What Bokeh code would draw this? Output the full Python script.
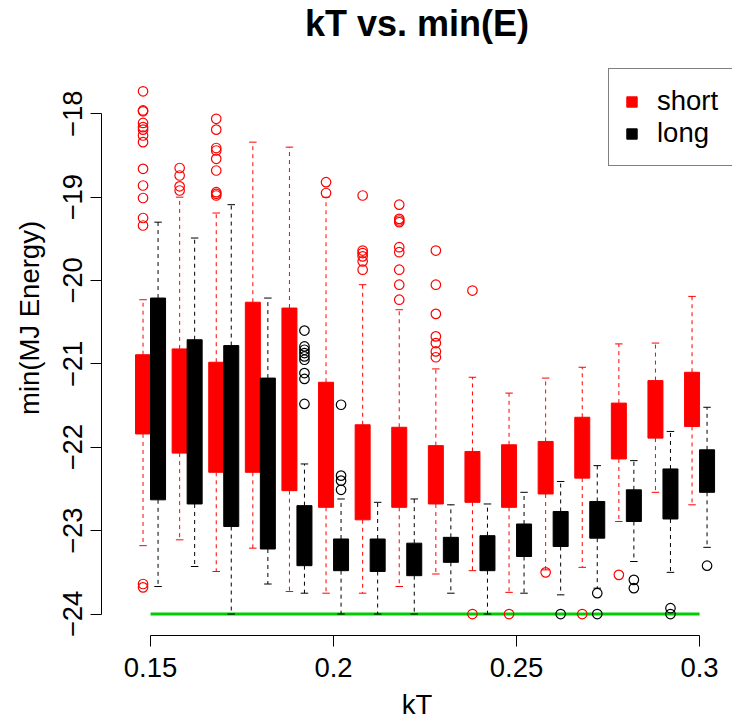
from bokeh.plotting import figure
from bokeh.models import Range1d, FixedTicker, Legend, LegendItem, ColumnDataSource, Label
from bokeh.embed import file_html
from bokeh.resources import INLINE

# ---------------- data ----------------
kT = [0.15, 0.16, 0.17, 0.18, 0.19, 0.20, 0.21, 0.22,
      0.23, 0.24, 0.25, 0.26, 0.27, 0.28, 0.29, 0.30]

# "short" series (red)
short_q3 = [-20.89, -20.82, -20.98, -20.26, -20.33, -21.22, -21.73, -21.76,
            -21.98, -22.05, -21.97, -21.93, -21.64, -21.47, -21.20, -21.10]
short_q1 = [-21.84, -22.07, -22.30, -22.30, -22.52, -22.72, -22.87, -22.72,
            -22.68, -22.66, -22.72, -22.56, -22.37, -22.14, -21.89, -21.75]
short_hi = [-20.23, -19.00, -19.19, -18.34, -18.40, -19.00, -20.05, -20.35,
            -21.06, -21.16, -21.35, -21.17, -21.04, -20.76, -20.75, -20.19]
short_lo = [-23.18, -23.11, -23.49, -23.21, -23.73, -23.75, -23.75, -23.67,
            -23.52, -23.48, -23.74, -23.47, -23.44, -22.89, -22.54, -22.69]
short_out = [
    [-17.73, -17.96, -17.97, -18.11, -18.16, -18.19, -18.26, -18.34, -18.66,
     -18.86, -19.01, -19.25, -19.34, -23.64, -23.68],
    [-18.65, -18.74, -18.87, -18.92],
    [-18.06, -18.19, -18.41, -18.44, -18.54, -18.68, -18.94, -18.96, -18.98],
    [],
    [],
    [-18.82, -18.95],
    [-18.98, -19.64, -19.67, -19.71, -19.77, -19.87],
    [-19.09, -19.26, -19.28, -19.30, -19.60, -19.66, -19.87, -20.05, -20.23],
    [-19.64, -20.05, -20.40, -20.67, -20.75, -20.85, -20.92],
    [-20.12, -24.00],
    [-24.00],
    [-23.50],
    [-24.00],
    [-23.53],
    [],
    [],
]

# "long" series (black)
long_q3 = [-20.21, -20.71, -20.78, -21.17, -22.70, -23.10, -23.10, -23.15,
           -23.08, -23.06, -22.92, -22.77, -22.65, -22.51, -22.26, -22.03]
long_q1 = [-22.63, -22.68, -22.95, -23.22, -23.42, -23.48, -23.49, -23.54,
           -23.38, -23.48, -23.31, -23.19, -23.09, -22.89, -22.86, -22.54]
long_hi = [-19.30, -19.49, -19.09, -20.21, -22.20, -22.62, -22.66, -22.62,
           -22.69, -22.68, -22.54, -22.41, -22.22, -22.16, -21.81, -21.52]
long_lo = [-23.67, -23.43, -24.00, -23.64, -23.75, -24.00, -24.00, -24.00,
           -23.75, -24.00, -23.75, -23.77, -23.69, -23.37, -23.50, -23.20]
long_out = [
    [], [], [], [],
    [-20.60, -20.79, -20.83, -20.87, -20.91, -20.95, -21.11, -21.18, -21.48],
    [-21.49, -22.34, -22.40, -22.51],
    [], [], [], [], [],
    [-24.00],
    [-23.75, -24.00],
    [-23.59, -23.69],
    [-23.93, -24.00],
    [-23.42],
]

floor_energy = -24.0
series_names = ["short", "long"]
y_ticks = [-24, -23, -22, -21, -20, -19, -18]
x_ticks = [0.15, 0.20, 0.25, 0.30]
x_tick_labels = ["0.15", "0.2", "0.25", "0.3"]
title_text = "kT vs. min(E)"

# ---------------- figure ----------------
FONT = "Liberation Sans"
# the frame reaches the top of the canvas so the title label can sit inside it
p = figure(width=732, height=722, output_backend="svg", toolbar_location=None,
           x_range=Range1d(0.1366, 0.309), y_range=Range1d(-24.2575, -16.641),
           min_border_left=101, min_border_right=0, min_border_top=0,
           min_border_bottom=86)
p.outline_line_color = None
p.xgrid.visible = False
p.ygrid.visible = False
p.background_fill_color = "white"

# title (frame: 631 px wide, 636 px tall)
p.add_layout(Label(x=315.5, y=612, x_units="screen", y_units="screen",
                   text=title_text, text_align="center",
                   text_baseline="alphabetic", text_font=FONT,
                   text_font_size="36px", text_font_style="bold",
                   text_color="black"))

# floor reference line
p.line(x=[min(kT), max(kT)], y=[floor_energy, floor_energy],
       line_color="#00CD00", line_width=3)

off = 0.00205
box_w = 0.0041
cap_w = box_w / 2


def draw_series(q1, q3, lo, hi, outs, color, shift):
    xs = [k + shift for k in kT]
    src = ColumnDataSource(dict(x=xs, q1=q1, q3=q3, lo=lo, hi=hi,
                                l=[x - box_w / 2 for x in xs],
                                r=[x + box_w / 2 for x in xs],
                                cl=[x - cap_w / 2 for x in xs],
                                cr=[x + cap_w / 2 for x in xs]))
    # whiskers (dashed)
    p.segment(x0="x", x1="x", y0="q3", y1="hi", source=src,
              line_color=color, line_width=1, line_dash="4 4")
    p.segment(x0="x", x1="x", y0="q1", y1="lo", source=src,
              line_color=color, line_width=1, line_dash="4 4")
    # staples
    p.segment(x0="cl", x1="cr", y0="hi", y1="hi", source=src,
              line_color=color, line_width=1)
    p.segment(x0="cl", x1="cr", y0="lo", y1="lo", source=src,
              line_color=color, line_width=1)
    # boxes
    r = p.quad(left="l", right="r", bottom="q1", top="q3", source=src,
               fill_color=color, line_color=color, line_width=1)
    # outliers
    ox, oy = [], []
    for x, vals in zip(xs, outs):
        for v in vals:
            ox.append(x)
            oy.append(v)
    p.scatter(x=ox, y=oy, marker="circle", size=9.5, fill_color=None,
              line_color=color, line_width=1.2)
    return r


r_short = draw_series(short_q1, short_q3, short_lo, short_hi, short_out, "#FF0000", -off)
r_long = draw_series(long_q1, long_q3, long_lo, long_hi, long_out, "#000000", off)

# ---------------- axes ----------------
xa = p.xaxis[0]
xa.ticker = FixedTicker(ticks=x_ticks)
xa.major_label_overrides = {t: s for t, s in zip(x_ticks, x_tick_labels)}
xa.bounds = (min(kT), max(kT))
xa.axis_label = "kT"
ya = p.yaxis[0]
ya.ticker = FixedTicker(ticks=y_ticks)
ya.major_label_overrides = {t: ("\u2212" + str(abs(t))) for t in y_ticks}
ya.bounds = (min(y_ticks), max(y_ticks))
ya.axis_label = "min(MJ Energy)"
ya.major_label_orientation = "vertical"

for ax in (xa, ya):
    ax.axis_line_color = "black"
    ax.axis_line_width = 1
    ax.major_tick_line_color = "black"
    ax.major_tick_out = 11
    ax.major_tick_in = 0
    ax.minor_tick_out = 0
    ax.minor_tick_in = 0
    ax.major_label_text_font = FONT
    ax.major_label_text_font_size = "27.5px"
    ax.major_label_text_color = "black"
    ax.axis_label_text_font = FONT
    ax.axis_label_text_font_size = "27.5px"
    ax.axis_label_text_font_style = "normal"
    ax.axis_label_text_color = "black"
xa.major_label_standoff = 11
xa.axis_label_standoff = 9
ya.major_label_standoff = 8
ya.axis_label_standoff = 16

# ---------------- legend ----------------
legend = Legend(items=[LegendItem(label=series_names[0], renderers=[r_short]),
                       LegendItem(label=series_names[1], renderers=[r_long])],
                location=(507, 469), orientation="vertical",
                padding=16, spacing=0, margin=0,
                glyph_width=13, glyph_height=13, label_standoff=19,
                label_width=80,
                label_text_font=FONT, label_text_font_size="27.5px",
                label_text_color="black",
                border_line_color="black", border_line_width=1,
                background_fill_color="white", background_fill_alpha=1.0)
p.add_layout(legend, "center")

open("out.html", "w").write(file_html(p, INLINE))
